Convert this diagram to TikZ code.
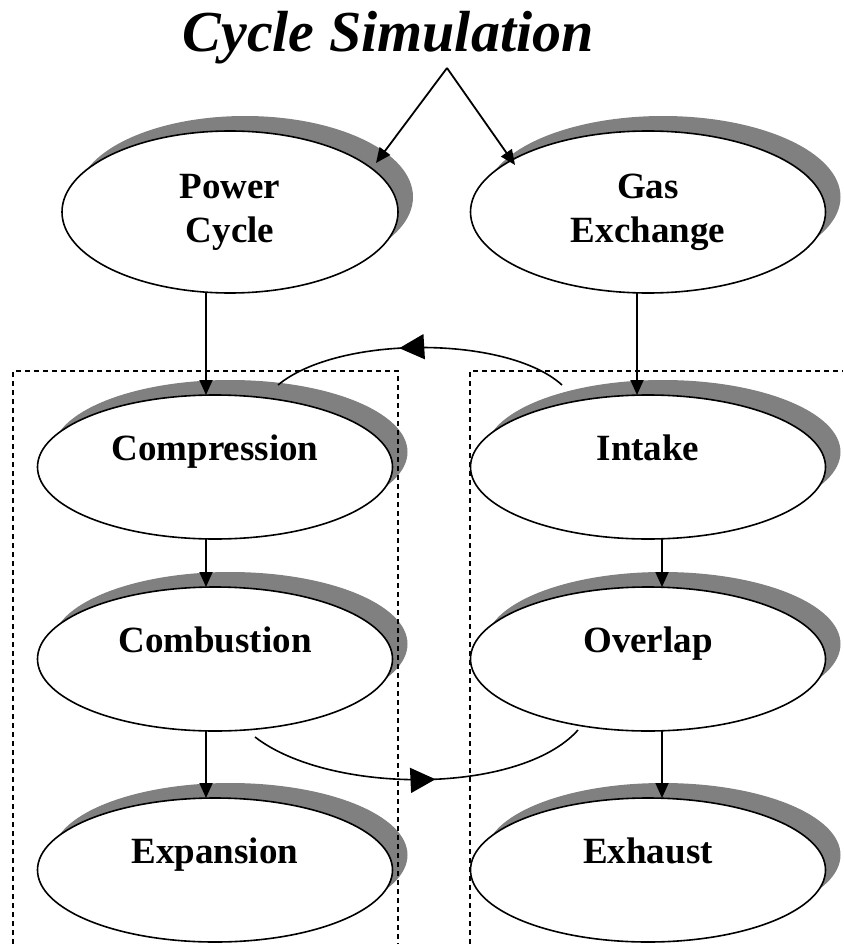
\documentclass[tikz,border=0pt]{standalone}
\usepackage{fontspec}
\setmainfont{Liberation Serif}
\usetikzlibrary{calc,arrows.meta,shapes.geometric,shadows,decorations.markings}
\tikzset{
    >={Triangle[length=15pt,width=13pt]},
    stage/.style={
        ellipse,
        draw=black, line width=1.6pt,
        fill=white,
        inner sep=0pt, outer sep=0pt,
        minimum width=355pt,
        minimum height=144pt,
        font={\fontsize{37pt}{44pt}\selectfont\bfseries},
        align=center,
        drop shadow={shadow xshift=15pt, shadow yshift=15pt,
            fill=black!50, opacity=1}
    },
    lifted/.style={text height=30pt, text depth=44pt},
    line/.style={draw, line width=1.8pt, ->},
    flowline/.style={
        draw, line width=1.6pt,
        postaction={decorate},
        decoration={markings,
            mark=at position #1 with {\arrow{Triangle[length=25pt,width=25pt]}}}
    },
    dashbox/.style={line width=1.5pt, dash pattern=on 5pt off 4pt},
}

\begin{document}
\begin{tikzpicture}[x=1pt,y=-1pt]
\useasboundingbox (0,0) rectangle (843,944);

\node[font={\fontsize{58pt}{60pt}\selectfont\bfseries\itshape}, anchor=base]
    (title) at (388,52) {Cycle Simulation};
\coordinate (apex) at ($(title.base)+(59,16)$);

% upper level
\node[stage, minimum width=336pt, minimum height=162pt] (pc) at (230,212) {Power\\Cycle};
\node[stage, minimum height=162pt] (ge) at (648,212) {Gas\\Exchange};

% power cycle
\node[stage, lifted] (comp) at (215,467) {Compression};
\node[stage, lifted] (comb) at (215,659) {Combustion};
\node[stage, lifted] (expa) at (215,870) {Expansion};

% gas exchange
\node[stage, lifted] (intake) at (648,467) {Intake};
\node[stage, lifted] (overlap) at (648,659) {Overlap};
\node[stage, lifted] (exhaust) at (648,870) {Exhaust};

\draw[line] (apex) -- ($(pc.center)+(146,-49)$);
\draw[line] (apex) -- ($(ge.center)+(-133,-47)$);

\draw[line] ([xshift=-24pt]pc.south) -- ([xshift=-9pt]comp.north);
\draw[line] ([xshift=-9pt]comp.south) -- ([xshift=-9pt]comb.north);
\draw[line] ([xshift=-9pt]comb.south) -- ([xshift=-9pt]expa.north);

\draw[line] ([xshift=-11pt]ge.south) -- ([xshift=-11pt]intake.north);
\draw[line] ([xshift=14pt]intake.south) -- ([xshift=14pt]overlap.north);
\draw[line] ([xshift=14pt]overlap.south) -- ([xshift=14pt]exhaust.north);

\path[flowline=0.57] ($(intake.center)+(-86,-82)$) .. controls +(-55,-50) and +(60,-50)
    .. ($(comp.center)+(63,-82)$);
\path[flowline=0.55] ($(comb.center)+(40,78)$) .. controls +(75,58) and +(-58,65)
    .. ($(overlap.center)+(-70,71)$);

\draw[dashbox] (13,944) |- (398,371) -- (398,944);
\draw[dashbox] (470,944) |- (843,371);
\end{tikzpicture}
\end{document}
